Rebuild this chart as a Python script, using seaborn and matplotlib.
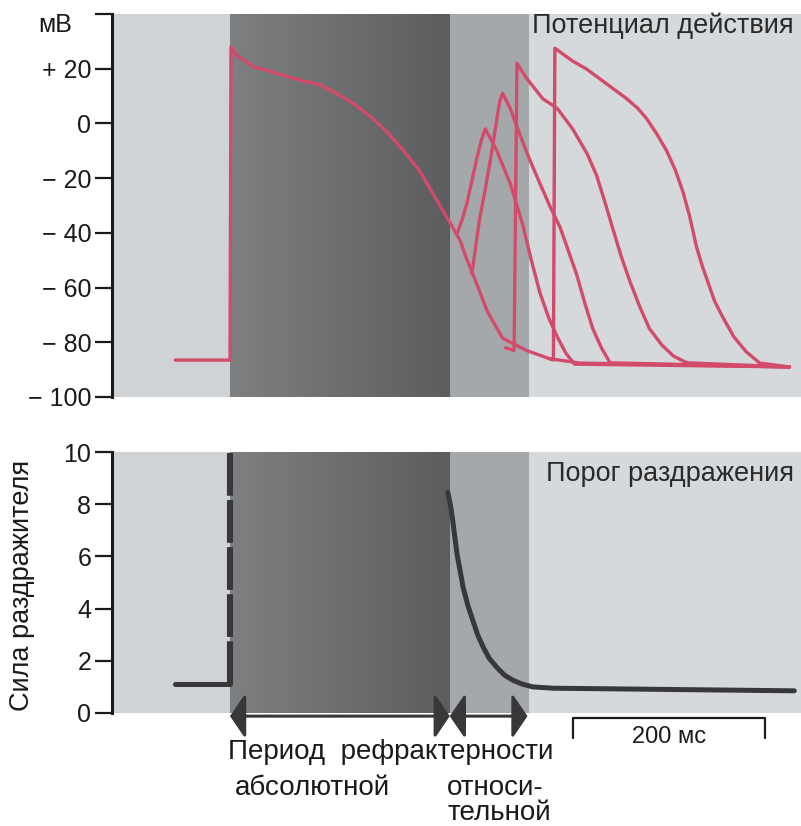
import numpy as np
import seaborn as sns
import matplotlib.pyplot as plt
from matplotlib.patches import FancyArrowPatch

# time in ms from the stimulus; membrane potential in mV
main_t = [-57, 0, 1, 7, 24, 42, 59, 76, 94, 111, 128, 146, 163, 180, 198, 212, 222, 232,
          240, 246, 253, 268, 284, 309, 333, 365, 583]
main_mv = [-86.5, -86.5, 28, 25, 20.8, 19, 17.2, 15.6, 14.1, 11, 7.4, 2.6, -2.9, -9.6, -17.5, -26, -32, -38,
           -43, -49, -55, -68.6, -78.5, -83, -86, -87.6, -89]

ap1_t = [237, 242, 247, 252, 257, 262, 266, 278, 292, 305, 314, 323, 332, 341, 350, 359, 583]
ap1_mv = [-40, -35, -29, -21, -13, -6, -2, -10, -22, -37, -50, -62, -71, -78, -84, -88, -89]

ap2_t = [252, 256, 260, 266, 271, 276, 281, 284, 292, 302, 312, 323, 333, 344, 353, 361, 370, 378, 387, 396, 583]
ap2_mv = [-55, -45, -35, -24, -14, -3, 8, 11, 5.5, -4, -13, -22, -30, -38, -47, -55, -66, -75, -82, -87.5, -89]

ap3_t = [287, 296, 299, 309, 326, 341, 357, 372, 382, 390, 399, 408, 417, 427, 437, 450, 462, 476, 583]
ap3_mv = [-82, -83, 22, 16.5, 9, 5.5, -2, -11, -19, -28, -38.6, -49, -58, -67, -75, -81, -85, -87.5, -89]

ap4_t = [333, 337, 338.5, 357, 371, 385, 400, 413.5, 425, 434, 445, 455, 464, 472, 479, 486, 492, 497,
         505, 513, 525, 538, 552, 583]
ap4_mv = [-86, -86.5, 27.5, 22.8, 20, 16.4, 12.5, 9, 5.5, 1.8, -4, -10, -17, -25, -34, -45, -52, -57,
          -65, -70.5, -78, -83.5, -87.6, -89]

# stimulus threshold (relative units)
rest_t = [-57, 0]
rest_thr = [1.1, 1.1]
absolute_t = [0, 0]
absolute_thr = [1.1, 10]
thr_t = [227, 230, 232, 236.5, 243, 248, 253, 258, 263.5, 270, 278, 286, 295, 305, 315.6, 336.5, 588]
thr = [8.45, 7.9, 7.4, 6.1, 4.8, 4.1, 3.55, 3.0, 2.55, 2.1, 1.75, 1.45, 1.25, 1.1, 1.0, 0.95, 0.85]

# refractory periods (ms)
absolute_end = 229
relative_end = 312
scale_start, scale_len = 357, 200

mv_ticks = [-100, -80, -60, -40, -20, 0, 20, 40]
mv_labels = ['\u2212 100', '\u2212 80', '\u2212 60', '\u2212 40', '\u2212 20', '0', '+ 20', '']
thr_ticks = [0, 2, 4, 6, 8, 10]

sns.set_theme(style='ticks')
plt.rcParams['font.family'] = ['Liberation Sans', 'DejaVu Sans']

red = '#d24b6b'
dark = '#38383a'
ink = '#1a1a1a'
fs = 18

fig = plt.figure(figsize=(8.01, 8.26), dpi=100)
fig.patch.set_facecolor('white')
ax1 = fig.add_axes([112/801, 1-397/826, 1-112/801, 383/826])
ax2 = fig.add_axes([112/801, 1-713/826, 1-112/801, 261/826])

xlim = (-123, 595)
for ax in (ax1, ax2):
    ax.set_xlim(xlim)
    ax.axvspan(xlim[0], 0, color='#cfd3d5', lw=0, zorder=0)
    edges = np.linspace(0, absolute_end, 41)
    shades = np.linspace(0.49, 0.36, 40)
    for a, b, s in zip(edges[:-1], edges[1:], shades):
        ax.axvspan(a, b, color=(s, s + 0.005, s + 0.01), lw=0, zorder=0)
    ax.axvspan(absolute_end, relative_end, color='#a5a8aa', lw=0, zorder=0)
    ax.axvspan(relative_end, xlim[1], color='#d5d9dc', lw=0, zorder=0)
    for s in ('top', 'right', 'bottom'):
        ax.spines[s].set_visible(False)
    ax.spines['left'].set_linewidth(2.2)
    ax.spines['left'].set_color(ink)
    ax.tick_params(axis='y', direction='out', length=12, width=1.6, pad=3,
                   labelsize=fs, colors=ink)
    ax.set_xticks([])
    ax.set_xlabel('')

# action potentials
for t, v in [(main_t, main_mv), (ap1_t, ap1_mv), (ap2_t, ap2_mv), (ap3_t, ap3_mv), (ap4_t, ap4_mv)]:
    sns.lineplot(x=t, y=v, ax=ax1, color=red, lw=2.4, sort=False, estimator=None, zorder=3)
ax1.set_ylim(-100, 40)
ax1.set_yticks(mv_ticks)
ax1.set_yticklabels(mv_labels)
ax1.set_ylabel('')
fig.text(55/801, 1-25/826, 'мВ', ha='center', va='center', fontsize=fs, color=ink)
ax1.text(0.99, 0.97, 'Потенциал действия', transform=ax1.transAxes, ha='right', va='center',
         fontsize=19.5, color='#2a2a2a')

# threshold
sns.lineplot(x=rest_t, y=rest_thr, ax=ax2, color=dark, lw=3.6, sort=False, estimator=None)
ax2.plot(absolute_t, absolute_thr, color=dark, lw=4.4, ls=(0, (7, 0.7)), solid_capstyle='butt')
sns.lineplot(x=thr_t, y=thr, ax=ax2, color=dark, lw=3.6, sort=False, estimator=None)
ax2.set_ylim(0, 10)
ax2.set_yticks(thr_ticks)
ax2.set_ylabel('')
ax2.text(0.99, 0.915, 'Порог раздражения', transform=ax2.transAxes, ha='right', va='center',
         fontsize=19.5, color='#2a2a2a')
fig.text(22/801, 1-585/826, 'Сила раздражителя', rotation=90, ha='center', va='center',
         fontsize=19.5, color=ink)

# refractory period arrows
ay = -0.12
for a, b in [(0, absolute_end), (absolute_end, relative_end - 2)]:
    arr = FancyArrowPatch((a, ay), (b, ay), arrowstyle='<|-|>,head_length=0.42,head_width=0.62',
                          mutation_scale=22, color=dark, lw=2.2, clip_on=False,
                          shrinkA=0, shrinkB=0)
    ax2.add_patch(arr)

# 200 ms scale bar
sy = 1 - 718/826
sy2 = 1 - 738/826
x0 = 112/801 + (scale_start - xlim[0]) / (xlim[1] - xlim[0]) * (1 - 112/801)
x1 = 112/801 + (scale_start + scale_len - xlim[0]) / (xlim[1] - xlim[0]) * (1 - 112/801)
fig.add_artist(plt.Line2D([x0, x0, x1, x1], [sy2, sy, sy, sy2], color=ink, lw=1.6))
fig.text((x0 + x1) / 2, 1-737/826, '200 мс', ha='center', va='center', fontsize=17, color=ink)

fig.text(228/801, 1-752/826, 'Период  рефрактерности', ha='left', va='center', fontsize=20, color=ink)
fig.text(312/801, 1-788/826, 'абсолютной', ha='center', va='center', fontsize=20, color=ink)
fig.text(447/801, 1-788/826, 'относи-', ha='left', va='center', fontsize=20, color=ink)
fig.text(447/801, 1-813/826, 'тельной', ha='left', va='center', fontsize=20, color=ink)

fig.savefig('out.png', dpi=100)
